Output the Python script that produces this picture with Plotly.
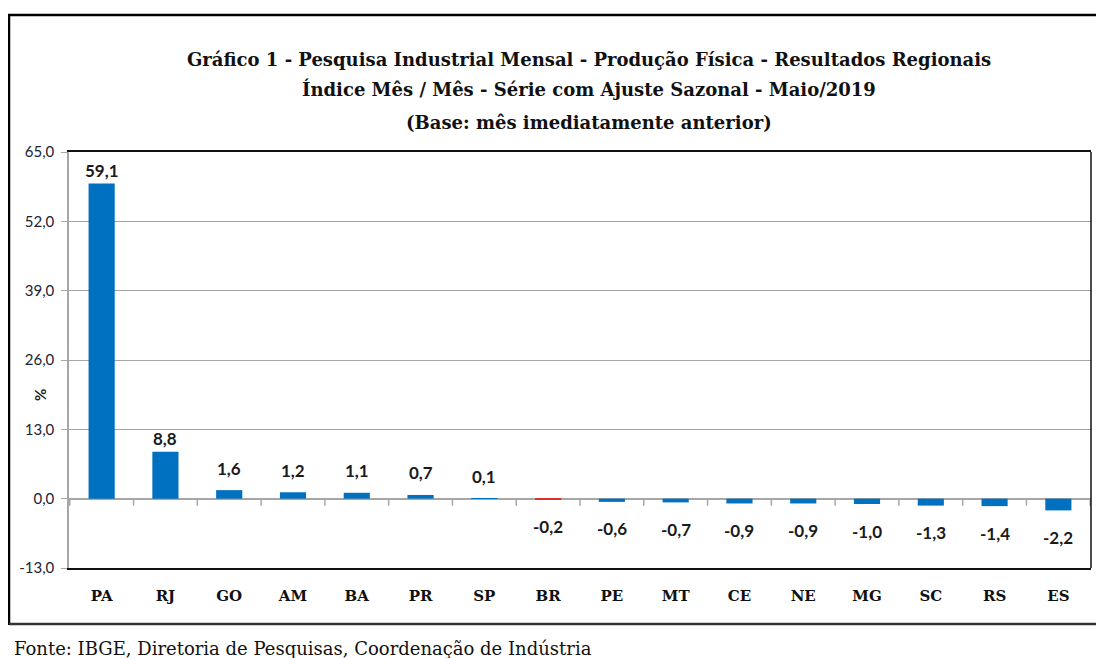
import plotly.graph_objects as go

categories = ["PA", "RJ", "GO", "AM", "BA", "PR", "SP", "BR", "PE", "MT", "CE", "NE", "MG", "SC", "RS", "ES"]
values = [59.1, 8.8, 1.6, 1.2, 1.1, 0.7, 0.1, -0.2, -0.6, -0.7, -0.9, -0.9, -1.0, -1.3, -1.4, -2.2]
highlight = "BR"
tick_vals = [-13, 0, 13, 26, 39, 52, 65]
tick_text = ["-13,0", "0,0", "13,0", "26,0", "39,0", "52,0", "65,0"]
title_lines = [
    "Gráfico 1 - Pesquisa Industrial Mensal - Produção Física - Resultados Regionais",
    "Índice Mês / Mês - Série com Ajuste Sazonal - Maio/2019",
    "(Base: mês imediatamente anterior)",
]
source_text = "Fonte: IBGE, Diretoria de Pesquisas, Coordenação de Indústria"

OFF = 8  # page body margin
W, H = 1104, 658
L, R, T, B = 69, 1091, 152, 568  # plot area in page pixels


def px(x):
    return (x - L) / (R - L)


def py(y):
    return (B - y) / (B - T)


BLUE = "#0070C0"
RED = "#E0302C"
GRID = "#A6A6A6"
colors = [RED if c == highlight else BLUE for c in categories]

fig = go.Figure()
fig.add_trace(go.Bar(x=categories, y=values, marker=dict(color=colors, line=dict(width=0)),
                     width=0.41, hoverinfo="x+y"))

annotations = []
for c, v in zip(categories, values):
    lab = f"{v:.1f}".replace(".", ",")
    if v >= 0:
        shift = 13 if v > 5 else 22
    else:
        shift = -27
    annotations.append(dict(x=c, y=v, text=f"<b>{lab}</b>", showarrow=False, xref="x", yref="y",
                            yanchor="middle", yshift=shift,
                            font=dict(family="Lato", size=17, color="#1a1a1a")))

title_y = [59, 89, 122]
for t, yy in zip(title_lines, title_y):
    annotations.append(dict(x=px(589), y=py(yy), xref="paper", yref="paper", text=f"<b>{t}</b>",
                            showarrow=False, xanchor="center", yanchor="middle",
                            font=dict(family="DejaVu Serif", size=18, color="#111")))
annotations.append(dict(x=px(40), y=py(395), xref="paper", yref="paper", text="<b>%</b>", textangle=-90,
                        showarrow=False, xanchor="center", yanchor="middle",
                        font=dict(family="Lato", size=15, color="#1a1a1a")))
annotations.append(dict(x=px(12), y=py(648), xref="paper", yref="paper", text=source_text,
                        showarrow=False, xanchor="left", yanchor="middle",
                        font=dict(family="DejaVu Serif", size=18, color="#111")))

shapes = []
for i in range(len(categories) + 1):
    shapes.append(dict(type="line", xref="x", yref="y", x0=i - 0.5, x1=i - 0.5,
                       ysizemode="pixel", yanchor=0, y0=0, y1=-7,
                       line=dict(color=GRID, width=1.5)))
shapes.append(dict(type="line", xref="paper", yref="paper", x0=1, x1=1, y0=0, y1=1,
                   line=dict(color="#111", width=1.5)))
shapes.append(dict(type="line", xref="paper", yref="paper", x0=px(8), x1=px(1120), y0=py(15), y1=py(15),
                   line=dict(color="#000", width=2.5)))
shapes.append(dict(type="line", xref="paper", yref="paper", x0=px(9), x1=px(9), y0=py(15), y1=py(625),
                   line=dict(color="#000", width=2.5)))
shapes.append(dict(type="line", xref="paper", yref="paper", x0=px(9), x1=px(1120), y0=py(624), y1=py(624),
                   line=dict(color="#333", width=2.5)))

fig.update_layout(
    width=W, height=H,
    margin=dict(l=L - OFF, r=W - (R - OFF), t=T - OFF, b=H - (B - OFF), autoexpand=False),
    paper_bgcolor="white", plot_bgcolor="white",
    showlegend=False,
    xaxis=dict(type="category", showgrid=False, showline=True, linecolor="#111", linewidth=1.5,
               mirror=True, ticks="", tickfont=dict(family="DejaVu Serif", size=15, color="#111"),
               tickprefix="<b>", ticksuffix="</b>",
               ticklabelstandoff=13, fixedrange=True),
    yaxis=dict(range=[-13, 65], tickvals=tick_vals, ticktext=tick_text, showgrid=True,
               gridcolor=GRID, gridwidth=1, zeroline=True, zerolinecolor=GRID, zerolinewidth=1.5,
               showline=True, linecolor=GRID, linewidth=1.5, ticks="outside", ticklen=6,
               tickcolor=GRID, tickfont=dict(family="Lato", size=15, color="#1a2433"),
               ticklabelstandoff=4, fixedrange=True),
    annotations=annotations,
    shapes=shapes,
)

fig.write_html("out.html")
